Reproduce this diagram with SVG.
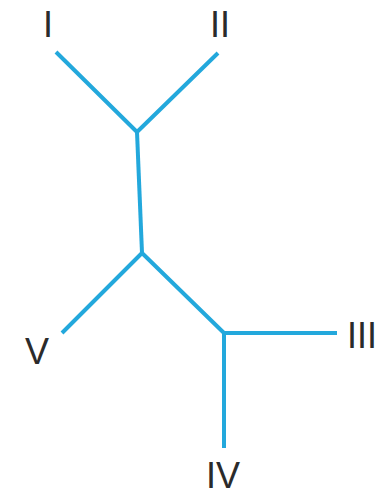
<svg xmlns="http://www.w3.org/2000/svg" width="388" height="496" viewBox="0 0 388 496">
<style>
.e{stroke:#23a8dc;stroke-width:4;fill:none;stroke-linecap:butt;stroke-linejoin:round}
.t{font-family:"Liberation Sans",Arial,sans-serif;font-size:36px;fill:#2b2b2b;text-anchor:middle}
</style>
<rect width="388" height="496" fill="#fff"/>
<g id="connectors">
<path class="e" d="M56,52 L137,132 L218,53"/>
<path class="e" d="M137,132 L142,253"/>
<path class="e" d="M62,333 L142,253 L224,333"/>
<path class="e" d="M224,333 L337,333"/>
<path class="e" d="M224,333 L224,448"/>
</g>
<g id="I"><text class="t" x="48" y="37">I</text></g>
<g id="II"><text class="t" x="220" y="37">II</text></g>
<g id="V"><text class="t" x="37" y="364">V</text></g>
<g id="III"><text class="t" x="362" y="348">III</text></g>
<g id="IV"><text class="t" x="223" y="488">IV</text></g>
</svg>
